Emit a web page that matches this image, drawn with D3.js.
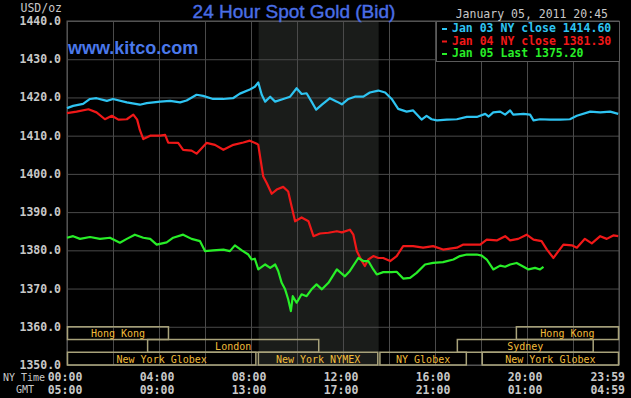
<!DOCTYPE html>
<html>
<head>
<meta charset="utf-8">
<script src="https://cdn.jsdelivr.net/npm/d3@7"></script>
<style>
  html, body { margin: 0; padding: 0; background: #000; }
  svg { display: block; }
  .mono { font-family: 'DejaVu Sans Mono', monospace; }
</style>
</head>
<body>
<div id="chart"></div>
<script>
// minutes after 00:00 NY time
const jan03Times = [0, 16, 42, 60, 77, 104, 120, 156, 190, 208, 243, 269, 295, 312, 338, 355, 381, 407, 433, 451, 477, 490, 499, 508, 517, 530, 543, 564, 582, 599, 612, 625, 638, 650, 665, 686, 704, 717, 734, 751, 773, 790, 812, 830, 847, 864, 886, 903, 925, 938, 951, 965, 991, 1017, 1043, 1069, 1091, 1100, 1112, 1130, 1143, 1156, 1164, 1191, 1208, 1217, 1234, 1260, 1286, 1312, 1330, 1365, 1391, 1417, 1438];
const jan03Values = [1417.2, 1417.8, 1418.3, 1419.6, 1419.8, 1419.1, 1419.6, 1418.7, 1418.1, 1418.5, 1418.9, 1419.1, 1418.7, 1419.2, 1420.7, 1420.4, 1419.6, 1419.6, 1419.8, 1421.0, 1422.1, 1422.8, 1423.9, 1420.7, 1418.9, 1420.2, 1418.9, 1419.6, 1420.2, 1422.4, 1420.9, 1421.1, 1418.9, 1416.8, 1418.1, 1419.8, 1418.9, 1418.2, 1419.6, 1420.2, 1420.2, 1421.3, 1421.8, 1421.3, 1419.6, 1417.0, 1416.3, 1416.6, 1414.2, 1415.2, 1414.3, 1414.0, 1414.2, 1414.3, 1414.9, 1414.9, 1415.7, 1415.0, 1416.1, 1416.3, 1415.5, 1416.6, 1415.5, 1415.7, 1415.5, 1414.0, 1414.3, 1414.2, 1414.2, 1414.3, 1415.2, 1416.3, 1416.1, 1416.3, 1415.7];

const jan04Times = [0, 25, 56, 77, 99, 117, 134, 156, 173, 183, 190, 199, 217, 243, 256, 264, 290, 303, 325, 338, 364, 386, 408, 434, 460, 477, 495, 499, 505, 512, 521, 534, 547, 564, 577, 586, 595, 612, 630, 643, 660, 682, 704, 717, 738, 747, 756, 769, 777, 786, 799, 812, 825, 843, 860, 877, 903, 929, 955, 981, 1017, 1034, 1078, 1095, 1121, 1143, 1156, 1177, 1199, 1217, 1238, 1252, 1269, 1282, 1295, 1317, 1330, 1351, 1369, 1391, 1408, 1425, 1438];
const jan04Values = [1415.9, 1416.3, 1416.9, 1416.1, 1414.3, 1415.2, 1414.2, 1414.3, 1415.5, 1414.2, 1411.5, 1409.1, 1410.0, 1410.0, 1410.2, 1408.2, 1408.1, 1406.3, 1406.1, 1405.3, 1408.1, 1407.6, 1406.3, 1407.6, 1408.2, 1408.7, 1407.9, 1407.6, 1403.7, 1399.3, 1397.6, 1394.8, 1395.9, 1396.6, 1395.4, 1391.5, 1387.6, 1388.6, 1387.6, 1383.7, 1384.4, 1384.6, 1385.0, 1384.7, 1385.4, 1384.1, 1379.8, 1377.2, 1375.9, 1377.6, 1378.5, 1378.0, 1378.0, 1377.2, 1378.5, 1381.1, 1381.1, 1380.7, 1381.1, 1380.2, 1380.7, 1381.5, 1381.5, 1382.8, 1382.6, 1383.7, 1382.6, 1383.0, 1384.1, 1382.8, 1382.4, 1380.2, 1378.0, 1379.8, 1381.5, 1381.3, 1380.7, 1383.0, 1381.8, 1383.7, 1383.0, 1383.9, 1383.7];

const jan05Times = [0, 16, 34, 60, 86, 112, 138, 156, 177, 199, 217, 234, 260, 277, 303, 325, 347, 360, 381, 408, 425, 438, 456, 473, 482, 490, 499, 517, 530, 543, 551, 560, 569, 577, 584, 589, 599, 612, 625, 638, 651, 665, 682, 704, 725, 738, 760, 773, 786, 799, 808, 825, 847, 860, 877, 895, 912, 934, 955, 981, 1008, 1025, 1043, 1069, 1082, 1095, 1112, 1130, 1143, 1156, 1173, 1191, 1204, 1221, 1234, 1243];
const jan05Values = [1383.3, 1383.7, 1383.0, 1383.5, 1383.0, 1383.3, 1382.0, 1383.0, 1384.1, 1383.3, 1383.0, 1381.5, 1382.1, 1383.3, 1384.1, 1383.0, 1382.4, 1379.8, 1380.0, 1380.2, 1379.8, 1381.3, 1380.0, 1378.9, 1377.6, 1377.8, 1375.0, 1376.3, 1375.4, 1376.3, 1374.6, 1371.5, 1369.8, 1367.2, 1364.1, 1368.0, 1366.3, 1368.5, 1368.0, 1369.8, 1371.1, 1369.8, 1371.5, 1375.0, 1373.2, 1374.6, 1378.0, 1377.2, 1377.2, 1375.0, 1373.7, 1374.3, 1374.3, 1374.4, 1372.6, 1372.8, 1374.1, 1376.3, 1376.7, 1376.9, 1377.6, 1378.5, 1378.9, 1378.9, 1378.6, 1377.6, 1375.0, 1376.0, 1375.7, 1376.3, 1376.7, 1375.7, 1375.0, 1375.4, 1375.0, 1375.7];

const seriesLabels = ['Jan 03 NY close 1414.60', 'Jan 04 NY close 1381.30', 'Jan 05 Last 1375.20'];
const seriesColors = ['#2ec4f2', '#f01818', '#28ee28'];

const yTicks = [1350, 1360, 1370, 1380, 1390, 1400, 1410, 1420, 1430, 1440];
const xTicks = [0, 120, 240, 360, 480, 600, 720, 840, 960, 1080, 1200, 1320, 1440];
const nyLabels = ['00:00', '04:00', '08:00', '12:00', '16:00', '20:00', '23:59'];
const gmtLabels = ['05:00', '09:00', '13:00', '17:00', '21:00', '01:00', '04:59'];
const labelTimes = [0, 240, 480, 720, 960, 1200, 1440];

// trading sessions along the bottom (row 0 = top)
const sessionNames = ['Hong Kong', 'London', 'New York Globex', 'New York NYMEX', 'NY Globex', 'Sydney', 'New York Globex', 'Hong Kong'];
const sessionStart = [0, 209, 0, 498, 815, 1017, 1082, 1171];
const sessionEnd = [266, 658, 494, 812, 1043, 1374, 1440, 1440];
const sessionRow = [0, 1, 2, 2, 2, 1, 2, 0];
const nymexShade = [500, 813];

const W = 631, H = 398;
const margin = { top: 21, right: 12, bottom: 33, left: 67 };

const svg = d3.select('#chart').append('svg')
  .attr('width', W)
  .attr('height', H)
  .style('background', '#000');

const x = d3.scaleLinear().domain([0, 1440]).range([margin.left, W - margin.right]);
const y = d3.scaleLinear().domain([1350, 1440]).range([H - margin.bottom, margin.top]);

// NYMEX shaded band
svg.append('rect')
  .attr('x', x(nymexShade[0]))
  .attr('y', y(1440))
  .attr('width', x(nymexShade[1]) - x(nymexShade[0]))
  .attr('height', y(1350) - y(1440))
  .attr('fill', '#1a1c1a');

// grid
svg.append('g')
  .attr('transform', 'translate(0,' + y(1350) + ')')
  .call(d3.axisBottom(x).tickValues(xTicks).tickSize(-(y(1350) - y(1440))).tickFormat(''))
  .call(g => g.select('.domain').remove())
  .call(g => g.selectAll('line').attr('stroke', '#4a4a4a'));

svg.append('g')
  .attr('transform', 'translate(' + x(0) + ',0)')
  .call(d3.axisLeft(y).tickValues(yTicks).tickSize(-(x(1440) - x(0))).tickFormat(''))
  .call(g => g.select('.domain').remove())
  .call(g => g.selectAll('line').attr('stroke', '#4a4a4a'));

svg.append('rect')
  .attr('x', x(0)).attr('y', y(1440))
  .attr('width', x(1440) - x(0)).attr('height', y(1350) - y(1440))
  .attr('fill', 'none').attr('stroke', '#5a5a5a');

// y labels
svg.append('g').selectAll('text').data(yTicks).join('text')
  .attr('class', 'mono')
  .attr('x', margin.left - 6)
  .attr('y', d => y(d) + 4)
  .attr('text-anchor', 'end')
  .attr('font-size', 11.5)
  .attr('font-weight', 'bold')
  .attr('fill', '#c8c8c8')
  .text(d => d.toFixed(1));

svg.append('text').attr('class', 'mono')
  .attr('x', margin.left - 5).attr('y', 12)
  .attr('text-anchor', 'end').attr('font-size', 11.5)
  .attr('fill', '#c8c8c8').text('USD/oz');

// time labels
const timeRow = (labels, yy) => svg.append('g').selectAll('text').data(labels).join('text')
  .attr('class', 'mono')
  .attr('x', (d, i) => i === labels.length - 1 ? W - 6 : x(labelTimes[i]) - 2)
  .attr('y', yy)
  .attr('text-anchor', (d, i) => i === labels.length - 1 ? 'end' : 'middle')
  .attr('font-size', 11.5)
  .attr('font-weight', 'bold')
  .attr('fill', '#c8c8c8')
  .text(d => d);
timeRow(nyLabels, 381);
timeRow(gmtLabels, 394);

svg.append('text').attr('class', 'mono')
  .attr('x', 3).attr('y', 381).attr('font-size', 10)
  .attr('fill', '#c8c8c8').text('NY Time');
svg.append('text').attr('class', 'mono')
  .attr('x', 25).attr('y', 393).attr('text-anchor', 'middle').attr('font-size', 10)
  .attr('fill', '#c8c8c8').text('GMT');

// sessions
const rowEdge = [1360, 1356.667, 1353.333, 1350];
const sess = svg.append('g').selectAll('g').data(sessionNames).join('g');
sess.append('rect')
  .attr('x', (d, i) => x(sessionStart[i]) + 0.5)
  .attr('y', (d, i) => y(rowEdge[sessionRow[i]]))
  .attr('width', (d, i) => x(sessionEnd[i]) - x(sessionStart[i]) - 1)
  .attr('height', (d, i) => y(rowEdge[sessionRow[i] + 1]) - y(rowEdge[sessionRow[i]]))
  .attr('fill', 'none')
  .attr('stroke', '#a8a27a')
  .attr('stroke-width', 1.5);
sess.append('text')
  .attr('class', 'mono')
  .attr('x', (d, i) => (x(sessionStart[i]) + x(sessionEnd[i])) / 2)
  .attr('y', (d, i) => (y(rowEdge[sessionRow[i]]) + y(rowEdge[sessionRow[i] + 1])) / 2 + 4)
  .attr('text-anchor', 'middle')
  .attr('font-size', 10)
  .attr('fill', '#f2bc3a')
  .text(d => d);

// price lines
const line = d3.line().x(d => x(d[0])).y(d => y(d[1]));
const series = [
  d3.zip(jan03Times, jan03Values),
  d3.zip(jan04Times, jan04Values),
  d3.zip(jan05Times, jan05Values)
];
svg.append('g').selectAll('path').data(series).join('path')
  .attr('d', line)
  .attr('fill', 'none')
  .attr('stroke', (d, i) => seriesColors[i])
  .attr('stroke-width', 2.2)
  .attr('stroke-linejoin', 'round');

// legend
const lx = 436, ly = 21;
svg.append('rect')
  .attr('x', lx + 0.5).attr('y', ly + 0.5)
  .attr('width', x(1440) - lx).attr('height', 40)
  .attr('fill', '#000').attr('stroke', '#5a5a5a');
const leg = svg.append('g').selectAll('g').data(seriesLabels).join('g')
  .attr('transform', (d, i) => 'translate(' + lx + ',' + (ly + 11 + i * 12.5) + ')');
leg.append('rect')
  .attr('x', 6).attr('y', -4).attr('width', 5).attr('height', 2)
  .attr('fill', (d, i) => seriesColors[i]);
leg.append('text')
  .attr('class', 'mono')
  .attr('x', 16).attr('y', 0)
  .attr('font-size', 11.5).attr('font-weight', 'bold')
  .attr('fill', (d, i) => seriesColors[i])
  .text(d => d);

// titles
svg.append('text')
  .attr('x', 294).attr('y', 18)
  .attr('text-anchor', 'middle')
  .attr('font-family', 'Liberation Sans, Arial, sans-serif')
  .attr('font-size', 19)
  .attr('fill', '#4a6ee6')
  .attr('stroke', '#4a6ee6')
  .attr('stroke-width', 0.4)
  .text('24 Hour Spot Gold (Bid)');

svg.append('text').attr('class', 'mono')
  .attr('x', 608).attr('y', 18)
  .attr('text-anchor', 'end')
  .attr('font-size', 11.5)
  .attr('fill', '#c8c8c8')
  .text('January 05, 2011 20:45');

svg.append('text')
  .attr('x', 68).attr('y', 54)
  .attr('font-family', 'Liberation Sans, Arial, sans-serif')
  .attr('font-size', 18)
  .attr('font-weight', 'bold')
  .attr('fill', '#4a78ea')
  .text('www.kitco.com');
</script>
</body>
</html>
